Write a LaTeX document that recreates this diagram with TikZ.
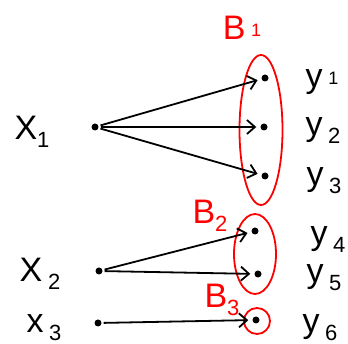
\documentclass[tikz,border=0pt]{standalone}
\usepackage{fontspec}
\setmainfont{Liberation Sans}
\usetikzlibrary{arrows.meta,shapes.geometric}
\newcommand{\sublow}[1]{\raisebox{-8pt}{\fontsize{22}{22}\selectfont #1}}
\newcommand{\subhigh}[1]{\raisebox{3pt}{\fontsize{18}{18}\selectfont #1}}
\begin{document}
\begin{tikzpicture}[x=1pt,y=-1pt,
  pt/.style={circle,fill=black,inner sep=0pt,minimum size=7pt},
  arr/.style={-{Straight Barb[length=8pt,width=14pt]},line width=1.8pt,shorten >=4pt,shorten <=2pt},
  grp/.style={draw=red,line width=1.8pt,ellipse,inner sep=0pt},
  lbl/.style={font=\fontsize{34}{34}\selectfont,inner sep=0pt},
  blbl/.style={lbl,text=red}]
\useasboundingbox (0,0) rectangle (348,344);
% groups
\node[grp,minimum width=43pt,minimum height=150pt] (B1e) at (261,130) {};
\node[grp,minimum width=42pt,minimum height=80pt] (B2e) at (255,254) {};
\node[grp,circle,minimum size=26pt] (B3e) at (257,321) {};
% points
\node[pt] (x1) at (95,127) {};
\node[pt] (x2) at (99,271) {};
\node[pt] (x3) at (98,323) {};
\node[pt] (y1) at (265,78) {};
\node[pt] (y2) at (264,127) {};
\node[pt] (y3) at (265,176) {};
\node[pt] (y4) at (255,231) {};
\node[pt] (y5) at (258,274) {};
\node[pt] (y6) at (256,320) {};
% arrows
\draw[arr] (x1) -- (y1);
\draw[arr] (x1) -- (y2);
\draw[arr] (x1) -- (y3);
\draw[arr] (x2) -- (y4);
\draw[arr] (x2) -- (y5);
\draw[arr] (x3) -- (y6);
% labels
\node[lbl] (lx1) at (32,132) {X\sublow{1}};
\node[lbl] (lx2) at (40,274) {X\,\sublow{2}};
\node[lbl] (lx3) at (44,328) {x\,\sublow{3}};
\node[lbl] (ly1) at (322,82) {y\,\subhigh{1}};
\node[lbl] (ly2) at (323,131) {y\,\sublow{2}};
\node[lbl] (ly3) at (324,181) {y\,\sublow{3}};
\node[lbl] (ly4) at (328,240) {y\,\sublow{4}};
\node[lbl] (ly5) at (324,278) {y\,\sublow{5}};
\node[lbl] (ly6) at (320,328) {y\,\sublow{6}};
\node[blbl] (lb1) at (242,28) {B\,\subhigh{1}};
\node[blbl] (lb2) at (210,216) {B\sublow{2}};
\node[blbl] (lb3) at (222,300) {B\sublow{3}};
\end{tikzpicture}
\end{document}
